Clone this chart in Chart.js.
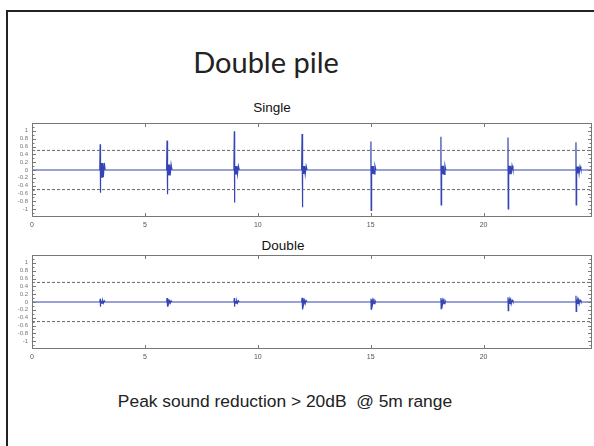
<!DOCTYPE html>
<html>
<head>
<meta charset="utf-8">
<script src="https://cdn.jsdelivr.net/npm/chart.js@4/dist/chart.umd.min.js"></script>
<style>
  html, body { margin: 0; padding: 0; background: #fff; }
  #slide { position: relative; width: 594px; height: 446px; overflow: hidden; }
  #frame { position: absolute; left: 6px; top: 10px; width: 600px; height: 450px;
           border-top: 2px solid #222; border-left: 2px solid #222; }
  .txt { position: absolute; white-space: nowrap; transform: translateX(-50%); color: #222; }
  #title { left: 266px; top: 44px; font-family: Lato, "Open Sans", sans-serif; font-size: 29px; }
  #caption { left: 285px; top: 391px; font-family: "Liberation Sans", Arial, sans-serif; font-size: 17.4px; }
  .sub { font-family: "Liberation Sans", Arial, sans-serif; font-size: 13.5px; color: #111; }
  #t1 { left: 272px; top: 100px; }
  #t2 { left: 283px; top: 238px; }
  .cv { position: absolute; left: 0; }
</style>
</head>
<body>
<div id="slide">
  <div id="frame"></div>
  <div id="title" class="txt">Double pile</div>
  <div id="t1" class="txt sub">Single</div>
  <div id="t2" class="txt sub">Double</div>
  <div class="cv" style="top:113px;width:594px;height:118px"><canvas id="singleChart"></canvas></div>
  <div class="cv" style="top:245px;width:594px;height:118px"><canvas id="doubleChart"></canvas></div>
  <div id="caption" class="txt">Peak sound reduction &gt; 20dB &nbsp;@ 5m range</div>
</div>
<script>
// time axis
const xMax = 24.8;
const xTicks = [0, 5, 10, 15, 20];
const yTicks = [-1, -0.8, -0.6, -0.4, -0.2, 0, 0.2, 0.4, 0.6, 0.8, 1];
const thresholdLevels = [0.5, -0.5];

// strike times (s)
const spikeTimes = [3.02, 5.98, 8.96, 11.96, 15.01, 18.11, 21.08, 24.09];

// single pile: peak up / peak down / ringing after the strike
const singleTop = [0.66, 0.75, 0.99, 0.92, 0.73, 0.85, 0.83, 0.71];
const singleBottom = [-0.58, -0.62, -0.83, -0.95, -1.03, -0.89, -0.99, -0.89];
const singleRing = [0.18, 0.14, 0.1, 0.1, 0.1, 0.11, 0.11, 0.09];

// double pile
const doubleTop = [0.08, 0.1, 0.1, 0.11, 0.08, 0.1, 0.12, 0.16];
const doubleBottom = [-0.12, -0.12, -0.12, -0.19, -0.18, -0.17, -0.22, -0.24];
const doubleRing = [0.03, 0.03, 0.03, 0.04, 0.04, 0.04, 0.05, 0.05];

const ringOffsets = [0.02, 0.04, 0.06, 0.08, 0.11, 0.14, 0.18];

function buildTrace(tops, bottoms, rings) {
    const pts = [{x: 0, y: 0}];
    spikeTimes.forEach(function(t, i) {
        pts.push({x: t - 0.02, y: 0}, {x: t, y: tops[i]}, {x: t + 0.01, y: bottoms[i]});
        ringOffsets.forEach(function(o, k) {
            pts.push({x: t + o, y: k % 2 ? -rings[i] : rings[i]});
        });
        pts.push({x: t + 0.22, y: 0});
    });
    pts.push({x: xMax, y: 0});
    return pts;
}

// box + inward tick marks like the matlab axes
const boxPlugin = {
    id: 'box',
    afterDraw(chart) {
        const c = chart.ctx, a = chart.chartArea;
        const xs = chart.scales.x, ys = chart.scales.y;
        c.save();
        c.strokeStyle = '#777';
        c.lineWidth = 1;
        c.strokeRect(a.left + 0.5, a.top + 0.5, a.right - a.left - 1, a.bottom - a.top - 1);
        c.beginPath();
        xTicks.forEach(function(v) {
            const px = Math.round(xs.getPixelForValue(v)) + 0.5;
            c.moveTo(px, a.top); c.lineTo(px, a.top + 4);
            c.moveTo(px, a.bottom); c.lineTo(px, a.bottom - 4);
        });
        for (let v = -11; v <= 11; v++) {
            const py = Math.round(ys.getPixelForValue(v / 10)) + 0.5;
            const len = v % 2 === 0 ? 4 : 2.5;
            c.moveTo(a.left, py); c.lineTo(a.left + len, py);
            c.moveTo(a.right, py); c.lineTo(a.right - len, py);
        }
        c.stroke();
        c.restore();
    }
};

function makeChart(id, trace) {
    const datasets = thresholdLevels.map(function(lv) {
        return {
            data: [{x: 0, y: lv}, {x: xMax, y: lv}],
            borderColor: '#666',
            borderWidth: 1,
            borderDash: [3, 2],
            pointRadius: 0
        };
    });
    datasets.push({
        data: trace,
        borderColor: '#3444b4',
        borderWidth: 1.2,
        pointRadius: 0,
        tension: 0
    });
    return new Chart(document.getElementById(id), {
        type: 'line',
        data: {datasets: datasets},
        plugins: [boxPlugin],
        options: {
            responsive: true,
            maintainAspectRatio: false,
            animation: false,
            layout: {padding: {top: 10, right: 2, left: 0, bottom: 0}},
            plugins: {legend: {display: false}, tooltip: {enabled: false}},
            scales: {
                x: {
                    type: 'linear',
                    min: 0,
                    max: xMax,
                    afterBuildTicks: function(s) { s.ticks = xTicks.map(function(v) { return {value: v}; }); },
                    afterFit: function(s) { s.height = 14; },
                    grid: {display: false, drawTicks: false},
                    border: {display: false},
                    ticks: {color: '#555', font: {size: 7, family: 'Liberation Sans'}, padding: 4,
                        maxRotation: 0, autoSkip: false}
                },
                y: {
                    min: -1.2,
                    max: 1.2,
                    afterBuildTicks: function(s) { s.ticks = yTicks.map(function(v) { return {value: v}; }); },
                    afterFit: function(s) { s.width = 32; },
                    grid: {display: false, drawTicks: false},
                    border: {display: false},
                    ticks: {color: '#777', font: {size: 6, family: 'Liberation Sans'}, padding: 4, autoSkip: false,
                        callback: function(v) { return String(Math.round(v * 10) / 10); }}
                }
            }
        }
    });
}

makeChart('singleChart', buildTrace(singleTop, singleBottom, singleRing));
makeChart('doubleChart', buildTrace(doubleTop, doubleBottom, doubleRing));
</script>
</body>
</html>
